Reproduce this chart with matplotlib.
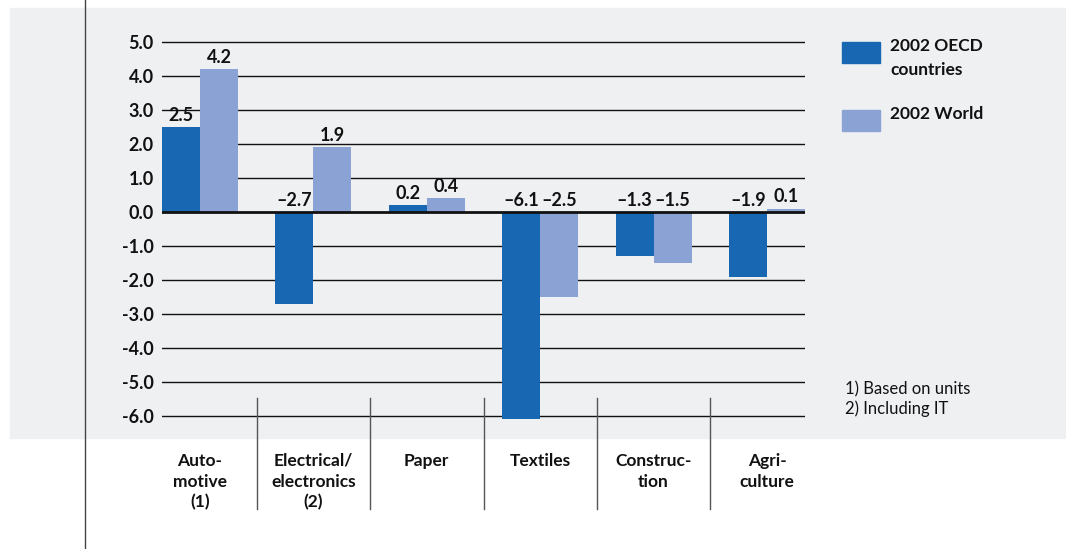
import numpy as np
import matplotlib
matplotlib.use('Agg')
import matplotlib.pyplot as plt
from matplotlib.patches import Rectangle
from matplotlib.transforms import blended_transform_factory

plt.rcParams['font.family'] = ['Lato', 'DejaVu Sans']

# datos
categorias = ['Auto-\nmotive\n(1)', 'Electrical/\nelectronics\n(2)', 'Paper',
              'Textiles', 'Construc-\ntion', 'Agri-\nculture']
oecd = [2.5, -2.7, 0.2, -6.1, -1.3, -1.9]
world = [4.2, 1.9, 0.4, -2.5, -1.5, 0.1]
series = ['2002 OECD\ncountries', '2002 World']
yticks = [5, 4, 3, 2, 1, 0, -1, -2, -3, -4, -5, -6]
notas = ['1) Based on units', '2) Including IT']

c_oecd = '#1767b2'
c_world = '#8ba2d4'
fondo = '#eff0f2'

W, H = 1066, 549
fig = plt.figure(figsize=(W / 100, H / 100), dpi=100)

# panel gris y linea vertical
fig.patches.append(Rectangle((10 / W, 1 - 438 / H), 1 - 10 / W, 430 / H,
                             transform=fig.transFigure, color=fondo, zorder=-5))
fig.add_artist(plt.Line2D([84.5 / W, 84.5 / W], [0, 1], transform=fig.transFigure,
                          color='#444444', lw=1, zorder=-4))

ax = fig.add_axes([162 / W, 1 - 426.2 / H, 643 / W, 394.4 / H])
ax.set_zorder(1)
ax.patch.set_alpha(0)
for s in ax.spines.values():
    s.set_visible(False)

x = np.arange(len(categorias))
bw = 0.335
ax.bar(x - bw / 2, oecd, bw, color=c_oecd, zorder=3)
ax.bar(x + bw / 2, world, bw, color=c_world, zorder=3)

ax.set_xlim(-bw, len(categorias) - 1 + bw)
ax.set_ylim(-6.3, 5.3)

for t in yticks:
    ax.axhline(t, color='#111111', lw=2 if t == 0 else 1, zorder=2 if t else 4)

ax.set_yticks(yticks)
ax.set_yticklabels(['%.1f' % t for t in yticks], fontsize=13, fontweight='bold')
ax.tick_params(axis='y', length=0, pad=6, labelcolor='#111111')
ax.set_xticks([])

# etiquetas de valores
for xs, vals in [(x - bw / 2, oecd), (x + bw / 2, world)]:
    for xi, v in zip(xs, vals):
        txt = ('%.1f' % v).replace('-', '\u2013')
        ax.text(xi, max(v, 0) + 0.1, txt, ha='center', va='bottom',
                fontsize=13, fontweight='bold', color='#111111', zorder=5)

# separadores y nombres de categoria
tr = blended_transform_factory(ax.transData, fig.transFigure)
for i in range(len(categorias) - 1):
    ax.add_artist(plt.Line2D([i + 0.5, i + 0.5], [1 - 509 / H, 1 - 398 / H],
                             transform=tr, color='#555555', lw=1, clip_on=False))
for i, c in enumerate(categorias):
    ax.text(i, 1 - 453 / H, c, transform=tr, ha='center', va='top',
            fontsize=12.5, fontweight='bold', linespacing=1.36, color='#111111')

# leyenda
for k, (lab, col) in enumerate(zip(series, [c_oecd, c_world])):
    y0 = 42 + k * 68
    fig.patches.append(Rectangle((842 / W, 1 - (y0 + 21) / H), 38 / W, 21 / H,
                                 transform=fig.transFigure, color=col, zorder=2))
    fig.text(890 / W, 1 - (y0 - 4) / H, lab, ha='left', va='top', fontsize=12.5,
             fontweight='bold', linespacing=1.6, color='#111111')

for k, n in enumerate(notas):
    fig.text(845 / W, 1 - (389 + 20 * k) / H, n, ha='left', va='center',
             fontsize=12, color='#111111')

fig.savefig('out.png', dpi=100)
